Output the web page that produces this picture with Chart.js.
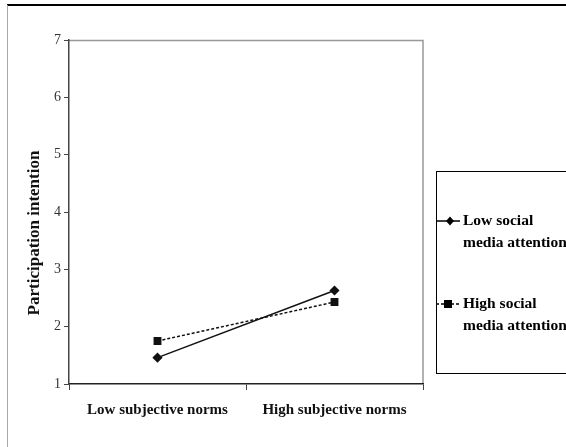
<!DOCTYPE html>
<html lang="en">
<head>
    <meta charset="UTF-8">
    <title>Participation intention</title>
    <script src="https://cdn.jsdelivr.net/npm/chart.js"></script>
    <style>
        html, body { margin: 0; padding: 0; background: #fff; }
        .box { position: relative; width: 566px; height: 447px; }
    </style>
</head>
<body>
    <div class="box">
        <canvas id="myChart" width="566" height="447"></canvas>
    </div>
<script>
    const categorias = ['Low subjective norms', 'High subjective norms']
    const baixaAtencao = [1.46, 2.63]
    const altaAtencao = [1.75, 2.43]
    const nomesSeries = [['Low social', 'media attention'], ['High social', 'media attention']]
    const ticksY = [1, 2, 3, 4, 5, 6, 7]
    const tituloY = 'Participation intention'

    const serif = "'Liberation Serif', 'Times New Roman', serif"

    // moldura, borda do grafico, titulo do eixo y e legenda desenhados a mao
    const extras = {
        id: 'extras',
        beforeDraw(chart) {
            const c = chart.ctx
            c.save()
            c.strokeStyle = '#000'
            c.lineWidth = 2
            c.beginPath(); c.moveTo(7, 5); c.lineTo(566, 5); c.stroke()
            c.strokeStyle = '#aaa'
            c.lineWidth = 1
            c.beginPath(); c.moveTo(7.5, 5); c.lineTo(7.5, 447); c.stroke()
            const a = chart.chartArea
            c.strokeStyle = '#999'
            c.lineWidth = 1.5
            c.beginPath()
            c.moveTo(a.left, a.top + 0.5); c.lineTo(a.right, a.top + 0.5)
            c.lineTo(a.right, a.bottom)
            c.stroke()
            c.restore()
        },
        afterDraw(chart) {
            const c = chart.ctx
            c.save()
            // titulo do eixo y
            c.translate(35, 233)
            c.rotate(-Math.PI / 2)
            c.fillStyle = '#111'
            c.font = 'bold 17px ' + serif
            c.textAlign = 'center'
            c.textBaseline = 'middle'
            c.fillText(tituloY, 0, 0)
            c.restore()

            c.save()
            c.strokeStyle = '#000'
            c.lineWidth = 1
            c.strokeRect(436.5, 171.5, 140, 202)
            const ys = [221, 304]
            chart.data.datasets.forEach((ds, i) => {
                const y = ys[i]
                c.strokeStyle = '#000'
                c.lineWidth = 1.5
                c.setLineDash(ds.borderDash || [])
                c.beginPath(); c.moveTo(436, y); c.lineTo(460, y); c.stroke()
                c.setLineDash([])
                c.fillStyle = '#000'
                c.beginPath()
                if (ds.pointStyle === 'rect') {
                    c.rect(444, y - 4, 8, 8)
                } else {
                    c.moveTo(450, y - 4.5); c.lineTo(454, y); c.lineTo(450, y + 4.5); c.lineTo(446, y)
                }
                c.fill()
                c.font = 'bold 15.5px ' + serif
                c.textBaseline = 'middle'
                c.fillText(nomesSeries[i][0], 463, y)
                c.fillText(nomesSeries[i][1], 463, y + 22)
            })
            c.restore()
        }
    }

    const ctx = document.getElementById('myChart')
    const grafico = new Chart(ctx, {
        type: 'line',
        data: {
            labels: categorias,
            datasets: [{
                label: nomesSeries[0].join(' '),
                data: baixaAtencao,
                borderColor: '#111',
                backgroundColor: '#111',
                borderWidth: 1.5,
                pointStyle: 'rectRot',
                pointRadius: 4,
                tension: 0
            },
            {
                label: nomesSeries[1].join(' '),
                data: altaAtencao,
                borderColor: '#111',
                backgroundColor: '#111',
                borderWidth: 1.5,
                borderDash: [3, 2],
                pointStyle: 'rect',
                pointRadius: 4.5,
                tension: 0
            }]
        },
        options: {
            responsive: false,
            animation: false,
            layout: { padding: { left: 0, top: 40, right: 143, bottom: 0 } },
            plugins: {
                legend: { display: false },
                tooltip: { enabled: false }
            },
            scales: {
                x: {
                    offset: true,
                    grid: { offset: true, drawOnChartArea: false, tickLength: 6, color: '#444' },
                    border: { color: '#222', width: 1.5 },
                    ticks: {
                        color: '#111',
                        padding: 11,
                        maxRotation: 0,
                        font: { family: serif, size: 15, weight: 'bold' }
                    },
                    afterFit(scale) { scale.height = 63 }
                },
                y: {
                    min: 1,
                    max: 7,
                    afterBuildTicks(scale) { scale.ticks = ticksY.map(v => ({ value: v })) },
                    grid: { drawOnChartArea: false, tickLength: 5, color: '#444' },
                    border: { color: '#444', width: 1.5 },
                    ticks: {
                        color: '#333',
                        padding: 3,
                        font: { family: serif, size: 14 }
                    },
                    afterFit(scale) { scale.width = 69 }
                }
            }
        },
        plugins: [extras]
    })
</script>
</body>
</html>
